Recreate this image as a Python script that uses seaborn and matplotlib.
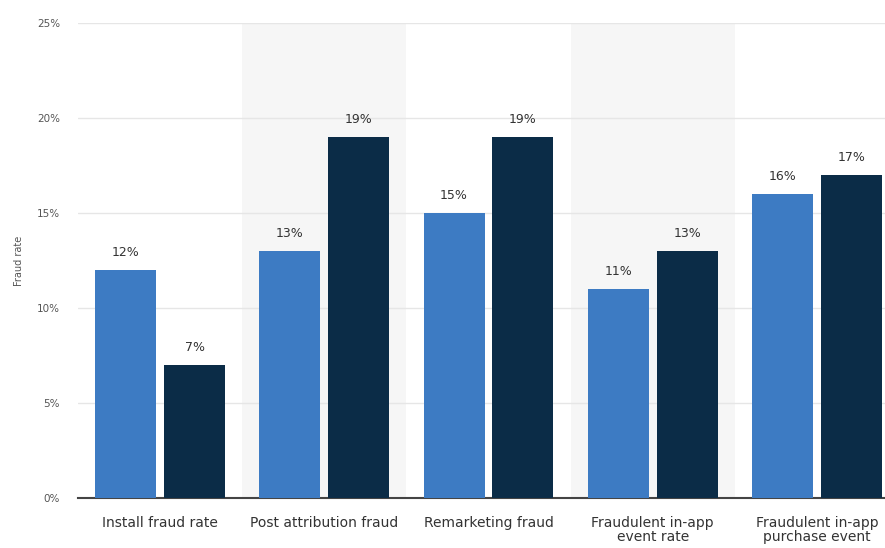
import matplotlib
matplotlib.use("Agg")
import matplotlib.pyplot as plt
import seaborn as sns
import pandas as pd

# Fraud rates per category, two series (light and dark bars)
categories = [
    "Install fraud rate",
    "Post attribution fraud",
    "Remarketing fraud",
    "Fraudulent in-app\nevent rate",
    "Fraudulent in-app\npurchase event",
]
series_names = ["Series A", "Series B"]
series_a = [12, 13, 15, 11, 16]
series_b = [7, 19, 19, 13, 17]
y_ticks = [0, 5, 10, 15, 20, 25]

df = pd.DataFrame({
    "category": categories * 2,
    "series": [series_names[0]] * len(categories) + [series_names[1]] * len(categories),
    "rate": series_a + series_b,
})

sns.set_theme(style="white")
plt.rcParams["font.family"] = ["DejaVu Sans"]

fig = plt.figure(figsize=(8.85, 5.48), dpi=100)
ax = fig.add_axes([78 / 885, 50 / 548, 821 / 885, 475 / 548])

# alternating shaded bands behind every second group
for i in range(len(categories)):
    if i % 2 == 1:
        ax.axvspan(i - 0.5, i + 0.5, color="#f6f6f6", zorder=0, lw=0)

palette = {series_names[0]: "#3d7bc3", series_names[1]: "#0b2c47"}
sns.barplot(data=df, x="category", y="rate", hue="series", palette=palette,
            width=0.84, gap=0.115, ax=ax, legend=False, zorder=3,
            saturation=1, linewidth=0)

for cont in ax.containers:
    for bar in cont:
        h = bar.get_height()
        ax.text(bar.get_x() + bar.get_width() / 2, h + 0.6, f"{h:.0f}%",
                ha="center", va="bottom", fontsize=9, color="#333333", zorder=4)

ax.set_ylim(0, 25)
ax.set_xlim(-0.5, 4.5)
ax.set_yticks(y_ticks)
ax.set_yticklabels([f"{t}%" for t in y_ticks], fontsize=7.5, color="#555555")
ax.yaxis.grid(True, color="#e6e6e6", lw=1, zorder=1)
ax.set_axisbelow(True)
ax.tick_params(axis="y", length=0, pad=13)
ax.tick_params(axis="x", length=0, pad=13, labelsize=10, labelcolor="#333333")
for lbl in ax.get_xticklabels():
    lbl.set_linespacing(1.0)
ax.set_xlabel("")
ax.set_ylabel("Fraud rate", fontsize=7, color="#555555", labelpad=9)
for s in ["top", "right", "left"]:
    ax.spines[s].set_visible(False)
ax.spines["bottom"].set_color("#444444")
ax.spines["bottom"].set_linewidth(1.5)

fig.savefig("out.png", dpi=100)
